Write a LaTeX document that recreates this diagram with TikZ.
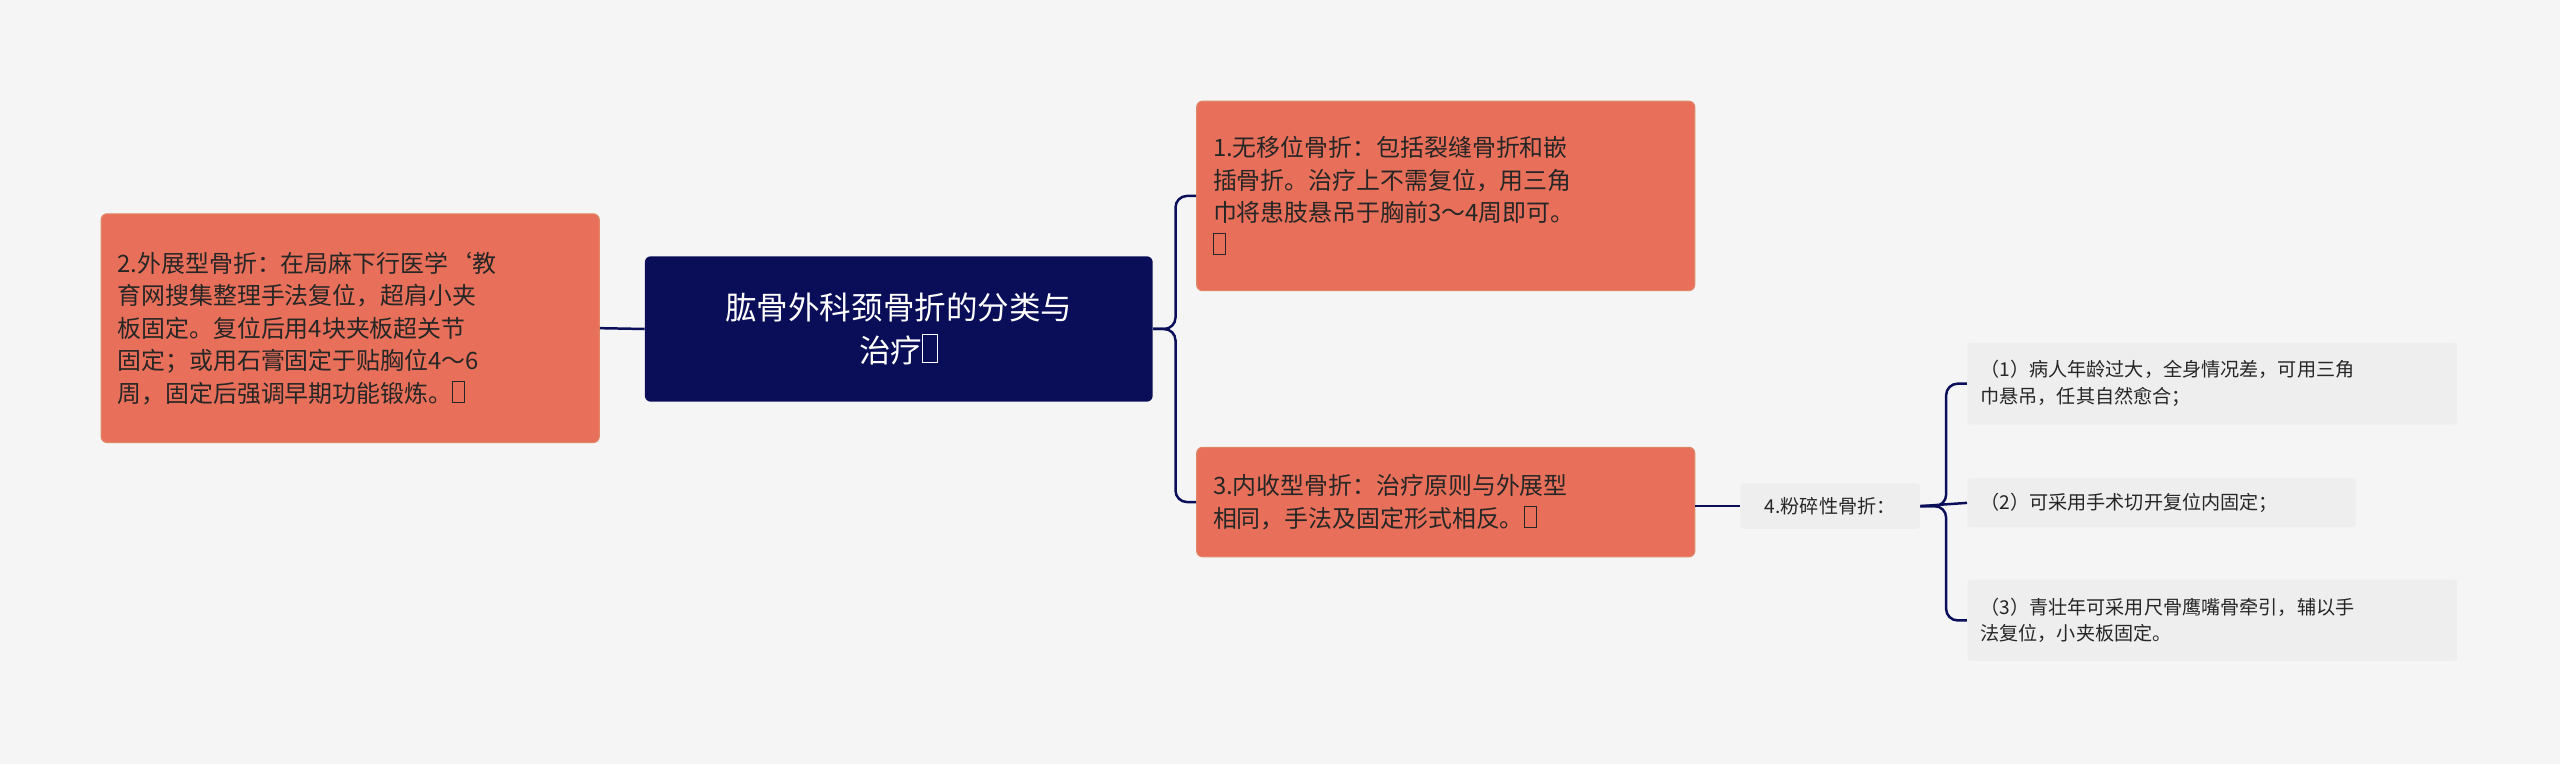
\documentclass[tikz,border=0pt]{standalone}
\usepackage{fontspec}
\setmainfont{Noto Sans CJK SC}
\newcommand{\tofu}{{\fboxsep=0pt\fboxrule=0.5pt\fbox{\phantom{\rule{0.45em}{0.85em}}}}}
\begin{document}
\begin{tikzpicture}[x=0.03cm,y=-0.03cm,
  orange/.style={draw=orange!50!red!80!black!60, fill={rgb,255:red,232;green,112;blue,90}, rounded corners=3pt, line width=0.6pt, font=\fontsize{12.5pt}{17pt}\selectfont, text=black!85, align=left, inner sep=0pt, anchor=center},
  leaf/.style={fill={rgb,255:red,238;green,238;blue,238}, rounded corners=2pt, font=\fontsize{10pt}{14pt}\selectfont, text=black!85, align=left, inner sep=0pt, anchor=center},
  conn/.style={draw={rgb,255:red,10;green,15;blue,90}, line width=1.3pt, rounded corners=6pt}]
\fill[black!4] (0,0) rectangle (1568,468);
\node[fill={rgb,255:red,10;green,14;blue,88}, rounded corners=3pt, text=white, align=center, minimum width=311*0.03cm, minimum height=89*0.03cm, font=\fontsize{16.5pt}{22pt}\selectfont] (root) at (550.5,201.5) {肱骨外科颈骨折的分类与\\治疗\tofu};
\node[orange, minimum width=305*0.03cm, minimum height=140*0.03cm, text width=285*0.03cm] (L) at (214.5,201) {2.外展型骨折：在局麻下行医学`教\\育网搜集整理手法复位，超肩小夹\\板固定。复位后用4块夹板超关节\\固定；或用石膏固定于贴胸位4～6\\周，固定后强调早期功能锻炼。\tofu};
\node[orange, minimum width=305*0.03cm, minimum height=116*0.03cm, text width=285*0.03cm] (R1) at (885.5,120) {1.无移位骨折：包括裂缝骨折和嵌\\插骨折。治疗上不需复位，用三角\\巾将患肢悬吊于胸前3～4周即可。\\\tofu};
\node[orange, minimum width=305*0.03cm, minimum height=67*0.03cm, text width=285*0.03cm] (R2) at (885.5,307.5) {3.内收型骨折：治疗原则与外展型\\相同，手法及固定形式相反。\tofu};
\node[leaf, minimum width=110*0.03cm, minimum height=28*0.03cm, align=center] (F) at (1121,310) {4.粉碎性骨折：};
\node[leaf, minimum width=300*0.03cm, minimum height=50*0.03cm, text width=284*0.03cm] (A) at (1355,235) {（1）病人年龄过大，全身情况差，可用三角\\巾悬吊，任其自然愈合；};
\node[leaf, minimum width=238*0.03cm, minimum height=30*0.03cm, text width=222*0.03cm] (B) at (1324,308) {（2）可采用手术切开复位内固定；};
\node[leaf, minimum width=300*0.03cm, minimum height=50*0.03cm, text width=284*0.03cm] (C) at (1355,380) {（3）青壮年可采用尺骨鹰嘴骨牵引，辅以手\\法复位，小夹板固定。};
\draw[conn] (root.west) -- (L.east);
\draw[conn] (root.east) -- (720,201.5) |- (R1.west);
\draw[conn] (root.east) -- (720,201.5) |- (R2.west);
\draw[conn] (R2.east|-F.west) -- (F.west);
\draw[conn] (F.east) -- (1192,310) |- (A.west);
\draw[conn] (F.east) -- (B.west);
\draw[conn] (F.east) -- (1192,310) |- (C.west);
\end{tikzpicture}
\end{document}
